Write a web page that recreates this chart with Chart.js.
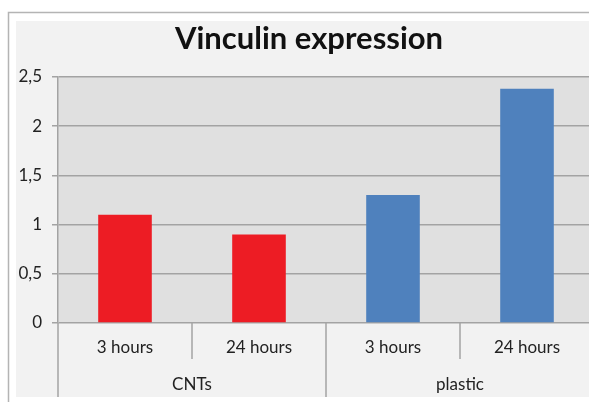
<!DOCTYPE html>
<html>
<head>
<meta charset="utf-8">
<script src="https://cdn.jsdelivr.net/npm/chart.js@4/dist/chart.umd.min.js"></script>
<style>
  html, body { margin: 0; padding: 0; background: #fff; overflow: hidden; }
  #wrap { width: 618px; height: 402px; }
</style>
</head>
<body>
<div id="wrap"><canvas id="chart" width="618" height="402"></canvas></div>
<script>
const timeLabels = ['3 hours', '24 hours', '3 hours', '24 hours'];
const groupLabels = ['CNTs', 'plastic'];
const groupOfBar = [0, 0, 1, 1];
const expression = [1.1, 0.9, 1.3, 2.38];
const groupColors = ['#ed1c24', '#4f81bd'];

const lineGray = '#a3a3a3';
const labelFont = { family: 'Lato, "Open Sans", sans-serif', size: 17 };

// background, frame and plot area fill
const framePlugin = {
    id: 'frame',
    beforeDraw(chart) {
        const ctx = chart.ctx;
        const area = chart.chartArea;
        ctx.save();
        ctx.fillStyle = '#ffffff';
        ctx.fillRect(0, 0, chart.width, chart.height);
        ctx.fillStyle = '#f2f2f2';
        ctx.fillRect(16, 21, chart.width, 397 - 21);
        ctx.strokeStyle = '#b4b4b4';
        ctx.lineWidth = 1.5;
        ctx.beginPath();
        ctx.moveTo(8.5, chart.height);
        ctx.lineTo(8.5, 12.5);
        ctx.lineTo(chart.width, 12.5);
        ctx.stroke();
        ctx.fillStyle = '#e0e0e0';
        ctx.fillRect(area.left, area.top, area.right - area.left, area.bottom - area.top);
        ctx.restore();
    }
};

// category dividers and the second level of labels
const groupAxisPlugin = {
    id: 'groupAxis',
    afterDraw(chart) {
        const ctx = chart.ctx;
        const x = chart.scales.x;
        const area = chart.chartArea;
        const n = timeLabels.length;
        const edges = [];
        for (let i = 0; i <= n; i++) {
            if (i == 0) edges.push(area.left);
            else if (i == n) edges.push(area.right);
            else edges.push((x.getPixelForValue(i - 1) + x.getPixelForValue(i)) / 2);
        }
        ctx.save();
        ctx.strokeStyle = lineGray;
        ctx.lineWidth = 1.5;
        for (let i = 0; i <= n; i++) {
            const isGroupEdge = i == 0 || i == n || groupOfBar[i] != groupOfBar[i - 1];
            ctx.beginPath();
            ctx.moveTo(edges[i], area.bottom);
            ctx.lineTo(edges[i], isGroupEdge ? 397 : 359);
            ctx.stroke();
        }
        ctx.fillStyle = '#222';
        ctx.font = `${labelFont.size}px ${labelFont.family}`;
        ctx.textAlign = 'center';
        ctx.textBaseline = 'middle';
        groupLabels.forEach((label, g) => {
            const idx = groupOfBar.map((v, i) => v == g ? i : -1).filter(i => i >= 0);
            const left = edges[idx[0]];
            const right = edges[idx[idx.length - 1] + 1];
            ctx.fillText(label, (left + right) / 2, 385);
        });
        ctx.restore();
    }
};

const config = {
    type: 'bar',
    data: {
        labels: timeLabels,
        datasets: [
            {
                label: 'Vinculin expression',
                data: expression,
                backgroundColor: groupOfBar.map(g => groupColors[g]),
                borderWidth: 0,
                categoryPercentage: 1,
                barPercentage: 0.4,
            },
        ]
    },
    options: {
        responsive: false,
        animation: false,
        devicePixelRatio: 1,
        layout: { padding: 0 },
        plugins: {
            legend: { display: false },
            tooltip: { enabled: false },
            title: {
                display: true,
                text: 'Vinculin expression',
                color: '#111',
                font: { family: 'Lato, "Open Sans", sans-serif', size: 31, weight: 'bold', lineHeight: 1.2 },
                padding: { top: 20, bottom: 19.8 },
            }
        },
        scales: {
            x: {
                grid: { display: false, drawTicks: false },
                border: { display: false },
                ticks: { color: '#222', font: labelFont, padding: 14, maxRotation: 0, autoSkip: false },
                afterFit(scale) { scale.height = 79; },
            },
            y: {
                min: 0,
                max: 2.5,
                grid: { color: lineGray, lineWidth: 1.5, tickLength: 6, drawTicks: true },
                border: { display: true, color: lineGray, width: 1.5 },
                ticks: {
                    stepSize: 0.5,
                    color: '#222',
                    font: labelFont,
                    padding: 10,
                    callback: value => String(value).replace('.', ','),
                },
                afterFit(scale) { scale.width = 58; },
            },
            // empty right-hand box so the plot runs past the photographed edge
            spacer: {
                type: 'linear',
                position: 'right',
                grid: { display: false, drawTicks: false },
                border: { display: false },
                ticks: { display: false },
                afterFit(scale) { scale.width = 24; },
            }
        }
    },
    plugins: [framePlugin, groupAxisPlugin]
};

new Chart(document.getElementById('chart'), config);
</script>
</body>
</html>
